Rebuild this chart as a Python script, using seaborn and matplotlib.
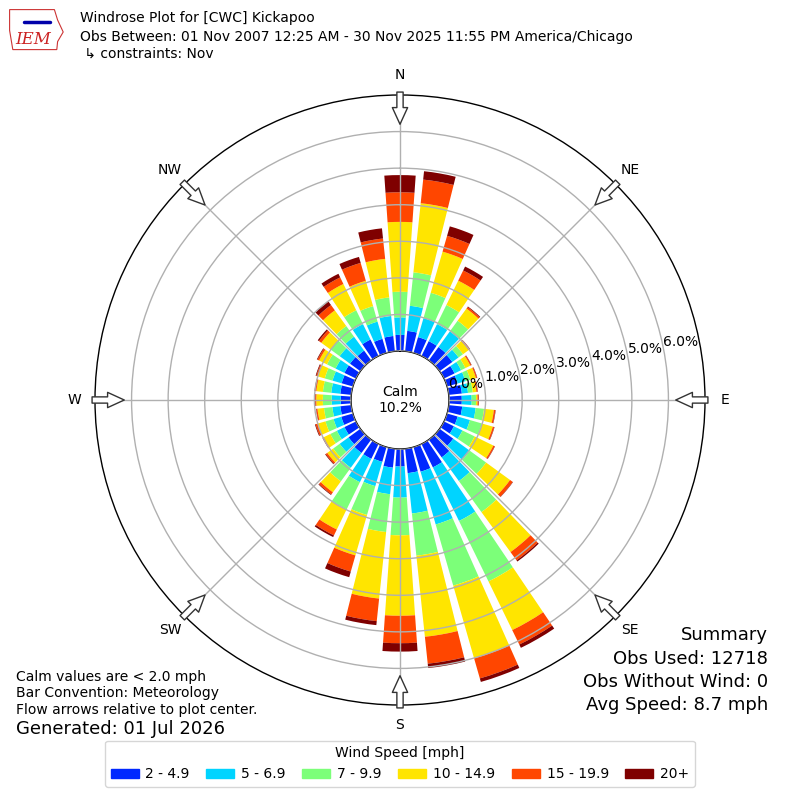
import numpy as np
import matplotlib
matplotlib.use("Agg")
import matplotlib.pyplot as plt
from matplotlib.patches import Patch, Polygon
import seaborn as sns

# Datos (frecuencia en % por direccion y rango de velocidad)
direcciones = np.arange(0, 360, 10)
v_2_5 = [.44, .56, .45, .45, .45, .43, .32, .30, .36, .35, .37, .30,
         .30, .46, .60, .71, .70, .67, .48, .52, .42, .45, .45, .40,
         .35, .33, .30, .28, .30, .32, .35, .35, .33, .50, .40, .42]
v_5_7 = [.48, .69, .54, .52, .53, .21, .20, .22, .17, .27, .37, .35,
         .26, .56, .80, 1.63, 1.50, 1.11, .85, .73, .69, .71, .50, .30,
         .23, .22, .22, .25, .25, .26, .27, .35, .47, .47, .49, .55]
v_7_10 = [.70, .92, .72, .58, .36, .15, .13, .14, .13, .12, .23, .34,
          .37, .55, 1.05, 1.84, 1.74, 1.16, 1.03, 1.04, .82, .83, .46, .22,
          .20, .23, .23, .24, .23, .22, .26, .30, .36, .42, .44, .51]
v_10_15 = [1.91, 1.90, 1.17, .74, .41, .19, .15, .16, .10, .04, .27, .31,
           .57, .81, 1.35, 1.48, 2.07, 2.23, 2.20, 1.83, 1.15, .61, .37, .20,
           .20, .22, .18, .18, .18, .20, .24, .32, .53, .80, .72, 1.06]
v_15_20 = [.81, .65, .45, .31, .05, .04, .03, .03, .03, .03, .04, .04,
           .04, .09, .28, .44, .57, .74, .75, .62, .46, .18, .07, .05,
           .03, .06, .03, .03, .04, .04, .05, .08, .18, .20, .51, .56]
v_20 = [.47, .23, .27, .12, .02, .01, .01, .01, .01, .01, .01, .01,
        .01, .01, .04, .10, .10, .12, .23, .11, .16, .05, .02, .02,
        .01, .02, .01, .02, .01, .02, .02, .04, .12, .11, .17, .28]
rangos = ['2 - 4.9', '5 - 6.9', '7 - 9.9', '10 - 14.9', '15 - 19.9', '20+']
calma = 10.2
puntos = ['N', 'NE', 'E', 'SE', 'S', 'SW', 'W', 'NW']

sns.set_style("white")
plt.rcParams['font.family'] = ['DejaVu Sans']
plt.rcParams['text.color'] = 'black'
plt.rcParams['xtick.color'] = 'black'
plt.rcParams['ytick.color'] = 'black'
plt.rcParams['legend.labelcolor'] = 'black'
colores = sns.color_palette(['#0028ff', '#00d4ff', '#7cff79', '#ffe500', '#ff4600', '#7f0000'])

fig = plt.figure(figsize=(8, 8), dpi=100)
ax = fig.add_axes([0.11875, 0.11875, 0.7625, 0.7625], projection='polar')
ax.set_theta_zero_location('N')
ax.set_theta_direction(-1)

# Barras apiladas
theta = np.radians(direcciones)
base = np.zeros(len(direcciones))
for vals, col, lab in zip([v_2_5, v_5_7, v_7_10, v_10_15, v_15_20, v_20], colores, rangos):
    ax.bar(theta, vals, width=np.radians(8), bottom=base, color=col, linewidth=0, label=lab, zorder=1)
    base = base + np.array(vals)

ax.set_rorigin(-1.34)
ax.set_ylim(0, 7)
ax.set_yticks(range(0, 7))
ax.set_yticklabels(['%.1f%%' % v for v in range(0, 7)], fontsize=10, color='black')
ax.set_rlabel_position(79)
ax.set_thetagrids(range(0, 360, 45), puntos, fontsize=10, color='black')
ax.tick_params(axis='x', pad=4)
ax.set_axisbelow(False)
ax.grid(True, color='#b0b0b0', lw=1)
for s in ax.spines.values():
    s.set_color('black')
    s.set_linewidth(1)

ax.text(0.5, 0.5, 'Calm\n%.1f%%' % calma, transform=ax.transAxes, ha='center', va='center', fontsize=10)

# Flechas de flujo
for ang in range(0, 360, 45):
    ax.annotate('', xy=(np.radians(ang), 6.2), xytext=(np.radians(ang), 7.08),
                arrowprops=dict(arrowstyle='simple,head_length=1.2,head_width=1.1,tail_width=0.45',
                                fc='white', ec='#333333', lw=1, shrinkA=0, shrinkB=0),
                annotation_clip=False, zorder=5)

# Titulo y logo
fig.text(0.1, 0.9775, 'Windrose Plot for [CWC] Kickapoo', fontsize=10, va='center')
fig.text(0.1, 0.954, 'Obs Between: 01 Nov 2007 12:25 AM - 30 Nov 2025 11:55 PM America/Chicago', fontsize=10, va='center')
fig.text(0.1, 0.9325, ' \u21b3 constraints: Nov', fontsize=10, va='center')
fig.patches.append(Polygon([[0.012, 0.988], [0.068, 0.988], [0.072, 0.975], [0.079, 0.96],
                            [0.072, 0.948], [0.071, 0.938], [0.016, 0.938], [0.012, 0.962]],
                           closed=True, fill=False, ec='#cc3333', lw=0.8, transform=fig.transFigure))
fig.text(0.042, 0.951, 'IEM', fontsize=12, color='#cc2222', family='serif', style='italic', ha='center', va='center')
fig.lines.append(plt.Line2D([0.03, 0.062], [0.972, 0.972], color='#0000aa', lw=2.5, transform=fig.transFigure))

# Notas
fig.text(0.02, 0.154, 'Calm values are < 2.0 mph', fontsize=10, va='center')
fig.text(0.02, 0.134, 'Bar Convention: Meteorology', fontsize=10, va='center')
fig.text(0.02, 0.1125, 'Flow arrows relative to plot center.', fontsize=10, va='center')
fig.text(0.02, 0.089, 'Generated: 01 Jul 2026', fontsize=13, va='center')

fig.text(0.96, 0.206, 'Summary', fontsize=13, ha='right', va='center')
fig.text(0.96, 0.176, 'Obs Used: 12718', fontsize=13, ha='right', va='center')
fig.text(0.96, 0.1475, 'Obs Without Wind: 0', fontsize=13, ha='right', va='center')
fig.text(0.96, 0.119, 'Avg Speed: 8.7 mph', fontsize=13, ha='right', va='center')

# Leyenda
handles = [Patch(color=c, label=l) for c, l in zip(colores, rangos)]
fig.legend(handles=handles, loc='lower center', ncol=6, title='Wind Speed [mph]',
           bbox_to_anchor=(0.5, 0.008), fontsize=10, title_fontsize=10,
           handleheight=0.6, handletextpad=0.5, columnspacing=1.2)

fig.savefig('out.png', dpi=100)
